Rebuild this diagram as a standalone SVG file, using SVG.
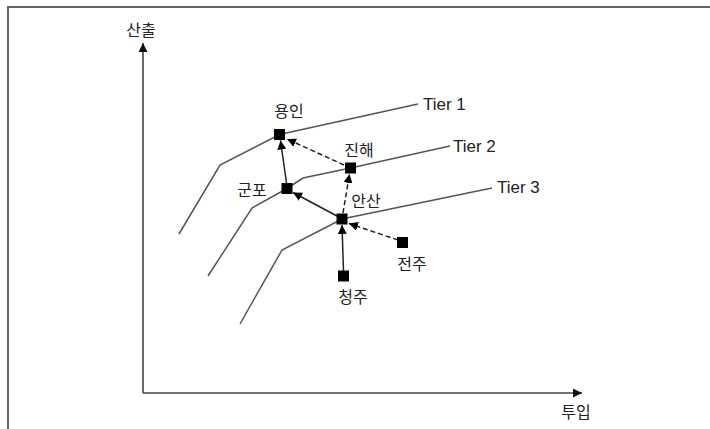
<svg xmlns="http://www.w3.org/2000/svg" width="710" height="429" viewBox="0 0 710 429">
<defs>
<style>
.frame{stroke:#666;stroke-width:2;fill:none}
.axis{stroke:#444;stroke-width:1.6;fill:none}
.tier{stroke:#555;stroke-width:1.5;fill:none}
.conn{stroke:#222;stroke-width:1.5;fill:none}
.dash{stroke-dasharray:5 3}
.node{fill:#000}
.ko{font-family:"Noto Sans CJK KR","Noto Sans",sans-serif;font-size:16px;fill:#222;text-anchor:middle}
.en{font-family:"Liberation Sans",Arial,sans-serif;font-size:17px;fill:#222}
</style>
<marker id="ah" viewBox="0 0 10 10" refX="10" refY="5" markerWidth="9" markerHeight="9" markerUnits="userSpaceOnUse" orient="auto">
<path d="M0,0 L10,5 L0,10 Z" fill="#000"/>
</marker>
<marker id="axh" viewBox="0 0 10 10" refX="10" refY="5" markerWidth="10" markerHeight="9" markerUnits="userSpaceOnUse" orient="auto">
<path d="M0,0 L10,5 L0,10 Z" fill="#111"/>
</marker>
</defs>
<rect width="710" height="429" fill="#fff"/>
<path class="frame" d="M8,429 V7 H710"/>
<g id="axes">
<line class="axis" x1="143" y1="393" x2="143" y2="43" marker-end="url(#axh)"/>
<line class="axis" x1="143" y1="393" x2="582" y2="393" marker-end="url(#axh)"/>
<text class="ko" x="141" y="36">산출</text>
<text class="ko" x="576" y="418">투입</text>
</g>
<g id="tiers">
<polyline class="tier" points="179,234 220,165 279.5,134.5 418,104"/>
<polyline class="tier" points="208,276 252,208 287,188.5 303,178 350.5,168 450,146"/>
<polyline class="tier" points="240,324 282,250 342,219 492,188"/>
<text class="en" x="423" y="110">Tier 1</text>
<text class="en" x="453" y="152">Tier 2</text>
<text class="en" x="497" y="193">Tier 3</text>
</g>
<g id="connectors">
<line class="conn" x1="343.5" y1="271" x2="342" y2="225" marker-end="url(#ah)"/>
<line class="conn dash" x1="398" y1="240" x2="349" y2="223.5" marker-end="url(#ah)"/>
<line class="conn" x1="337" y1="216" x2="293" y2="192.5" marker-end="url(#ah)"/>
<line class="conn dash" x1="343" y1="213" x2="349.5" y2="174" marker-end="url(#ah)"/>
<line class="conn" x1="286.5" y1="183" x2="280.5" y2="140.5" marker-end="url(#ah)"/>
<line class="conn dash" x1="344" y1="165" x2="287" y2="139" marker-end="url(#ah)"/>
</g>
<g id="n-yongin"><rect class="node" x="274" y="129" width="11" height="11"/><text class="ko" x="289" y="116.5">용인</text></g>
<g id="n-jinhae"><rect class="node" x="345" y="162.5" width="11" height="11"/><text class="ko" x="359" y="156">진해</text></g>
<g id="n-gunpo"><rect class="node" x="281.5" y="183" width="11" height="11"/><text class="ko" x="252" y="196">군포</text></g>
<g id="n-ansan"><rect class="node" x="336.5" y="213.5" width="11" height="11"/><text class="ko" x="366" y="207">안산</text></g>
<g id="n-jeonju"><rect class="node" x="397" y="237" width="11" height="11"/><text class="ko" x="412" y="270">전주</text></g>
<g id="n-cheongju"><rect class="node" x="338" y="270.5" width="11" height="11"/><text class="ko" x="353" y="303">청주</text></g>
</svg>
